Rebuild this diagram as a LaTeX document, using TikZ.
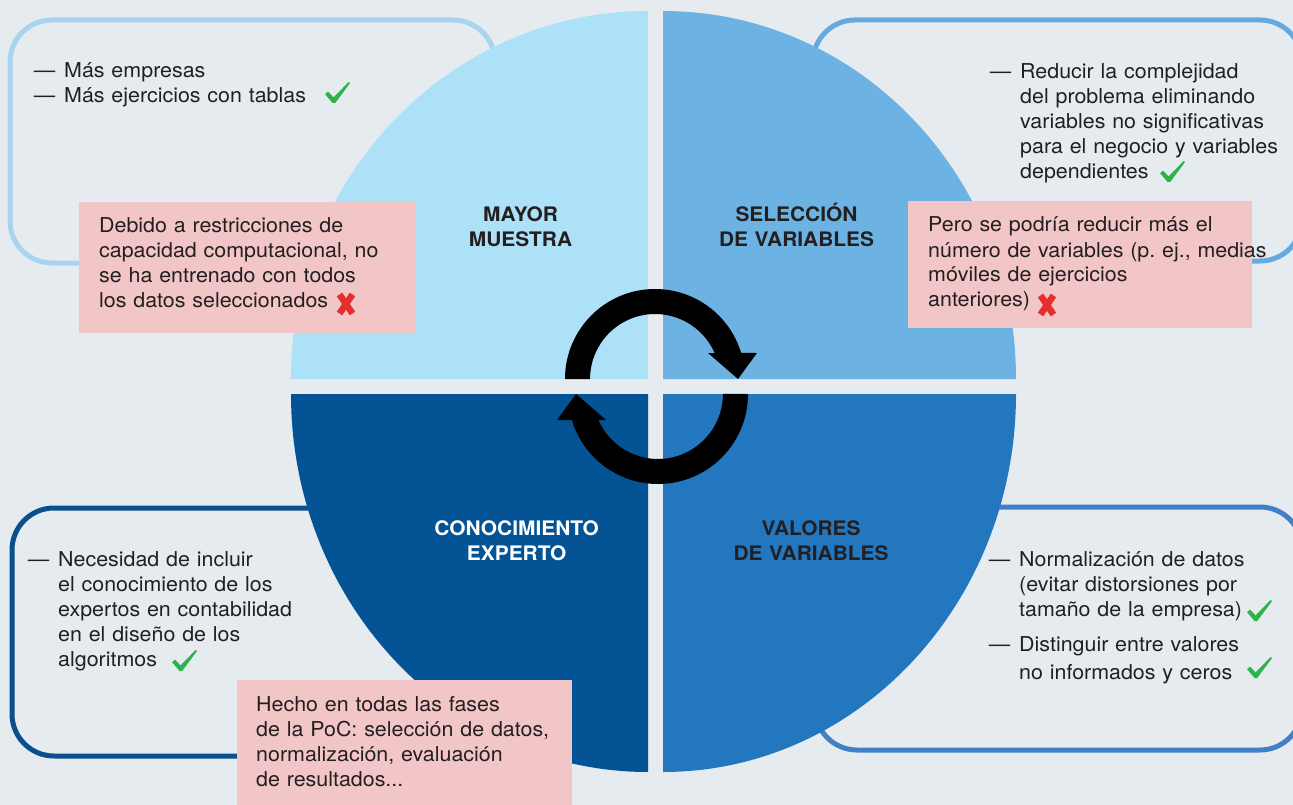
\documentclass[tikz,border=0pt]{standalone}
\usepackage{fontspec}
\setmainfont{TeX Gyre Heros}[FakeStretch=1.045]
\definecolor{bg}{HTML}{E6EBF0}
\definecolor{qTL}{HTML}{ACE1F8}
\definecolor{qTR}{HTML}{6CB3E3}
\definecolor{qBL}{HTML}{035395}
\definecolor{qBR}{HTML}{2377BE}
\definecolor{pinkbox}{HTML}{F2C5C7}
\definecolor{bTL}{HTML}{A8D4F0}
\definecolor{bTR}{HTML}{66A9DE}
\definecolor{bBL}{HTML}{0A4E8D}
\definecolor{bBR}{HTML}{4180C6}
\definecolor{txt}{HTML}{231F20}
\definecolor{okgreen}{HTML}{2CB34A}
\definecolor{kored}{HTML}{E52E2E}
\newcommand{\dsh}{\leavevmode\llap{—\hspace{9pt}}}
\frenchspacing
\begin{document}
\begin{tikzpicture}[x=1pt,y=-1pt,
  outerbox/.style={line width=5pt, rounded corners=42pt},
  body/.style={font=\fontsize{20.5}{25}\selectfont, text=txt, inner sep=0pt,
    anchor=base west, text width=440pt, align=left},
  head/.style={font=\fontsize{20}{25}\selectfont\bfseries, inner sep=0pt,
    anchor=base, text width=240pt, align=center},
  chk/.pic={\fill[okgreen] (0,12.2) -- (3,9.6) -- (8.6,15.4) -- (23.6,0) -- (25,1.1) -- (10.2,21) -- (7.6,21) -- cycle;},
  crs/.pic={\draw[kored, line width=6.5pt] (2.5,1.5) -- (15.5,20.5) (15.5,1.5) -- (2.5,20.5);}
]
\useasboundingbox (0,0) rectangle (1293,805);
\fill[bg] (0,0) rectangle (1293,805);

% outer rounded boxes (behind the circle)
\draw[outerbox, draw=bTL] (10,20) rectangle (495,263);
\draw[outerbox, draw=bTR] (813,20) rectangle (1302,261);
\draw[outerbox, draw=bBL] (12,508) rectangle (520,756);
\draw[outerbox, draw=bBR] (815,507) rectangle (1302,750);

% quadrants
\fill[qTL] (648,379) -- (291,379) arc[start angle=180, end angle=270, x radius=357, y radius=368] -- cycle;
\fill[qTR] (663,379) -- (663,11) arc[start angle=270, end angle=360, x radius=353, y radius=368] -- cycle;
\fill[qBL] (648,394) -- (291,394) arc[start angle=180, end angle=90, x radius=357, y radius=378] -- cycle;
\fill[qBR] (663,394) -- (1016,394) arc[start angle=0, end angle=90, x radius=353, y radius=378] -- cycle;

% pink boxes
\fill[pinkbox] (79,202) rectangle (415,333);
\fill[pinkbox] (908,201) rectangle (1252,328);
\fill[pinkbox] (237,680) rectangle (572,806);

% circular arrows
\fill[black] (565,379) arc[start angle=180, end angle=343.2, radius=90]
  -- (757,353) -- (738,379) -- (708,353) -- (714.6,353)
  arc[start angle=336.4, end angle=180, radius=65] -- cycle;
\fill[black] (748,394) arc[start angle=0, end angle=163.2, radius=90]
  -- (557,420) -- (576,394) -- (606,420) -- (598.4,420)
  arc[start angle=156.4, end angle=0, radius=65] -- cycle;

% headings
\node[head, text=txt] (hTL) at (520.5,221.7) {MAYOR\\MUESTRA};
\node[head, text=txt] (hTR) at (796.5,221.7) {SELECCIÓN\\DE VARIABLES};
\node[head, text=white] (hBL) at (516.7,535.7) {CONOCIMIENTO\\EXPERTO};
\node[head, text=txt] (hBR) at (811,535.7) {VALORES\\DE VARIABLES};

% texts
\node[body] (tTL) at (64,78) {\dsh Más empresas\\\dsh Más ejercicios con tablas};
\pic at (325,82) {chk};
\node[body] (pTL) at (99,233) {Debido a restricciones de\\capacidad computacional, no\\se ha entrenado con todos\\los datos seleccionados};
\pic at (337,293) {crs};

\node[body] (tTR) at (1020,79) {\dsh Reducir la complejidad\\del problema eliminando\\variables no significativas\\para el negocio y variables\\dependientes};
\pic at (1160,161) {chk};
\node[body] (pTR) at (928,232) {Pero se podría reducir más el\\número de variables (p. ej., medias\\móviles de ejercicios\\anteriores)};
\pic at (1038,294) {crs};

\node[body] (tBL) at (58,566) {\dsh Necesidad de incluir\\el conocimiento de los\\expertos en contabilidad\\en el diseño de los\\algoritmos};
\pic at (172,650) {chk};
\node[body] (pBL) at (256,711) {Hecho en todas las fases\\de la PoC: selección de datos,\\normalización, evaluación\\de resultados...};

\node[body] (tBR1) at (1019,566) {\dsh Normalización de datos\\(evitar distorsiones por\\tamaño de la empresa)};
\pic at (1247,600) {chk};
\node[body, font=\fontsize{20.5}{28}\selectfont] (tBR2) at (1019,651) {\dsh Distinguir entre valores\\no informados y ceros};
\pic at (1247,657) {chk};
\end{tikzpicture}
\end{document}
